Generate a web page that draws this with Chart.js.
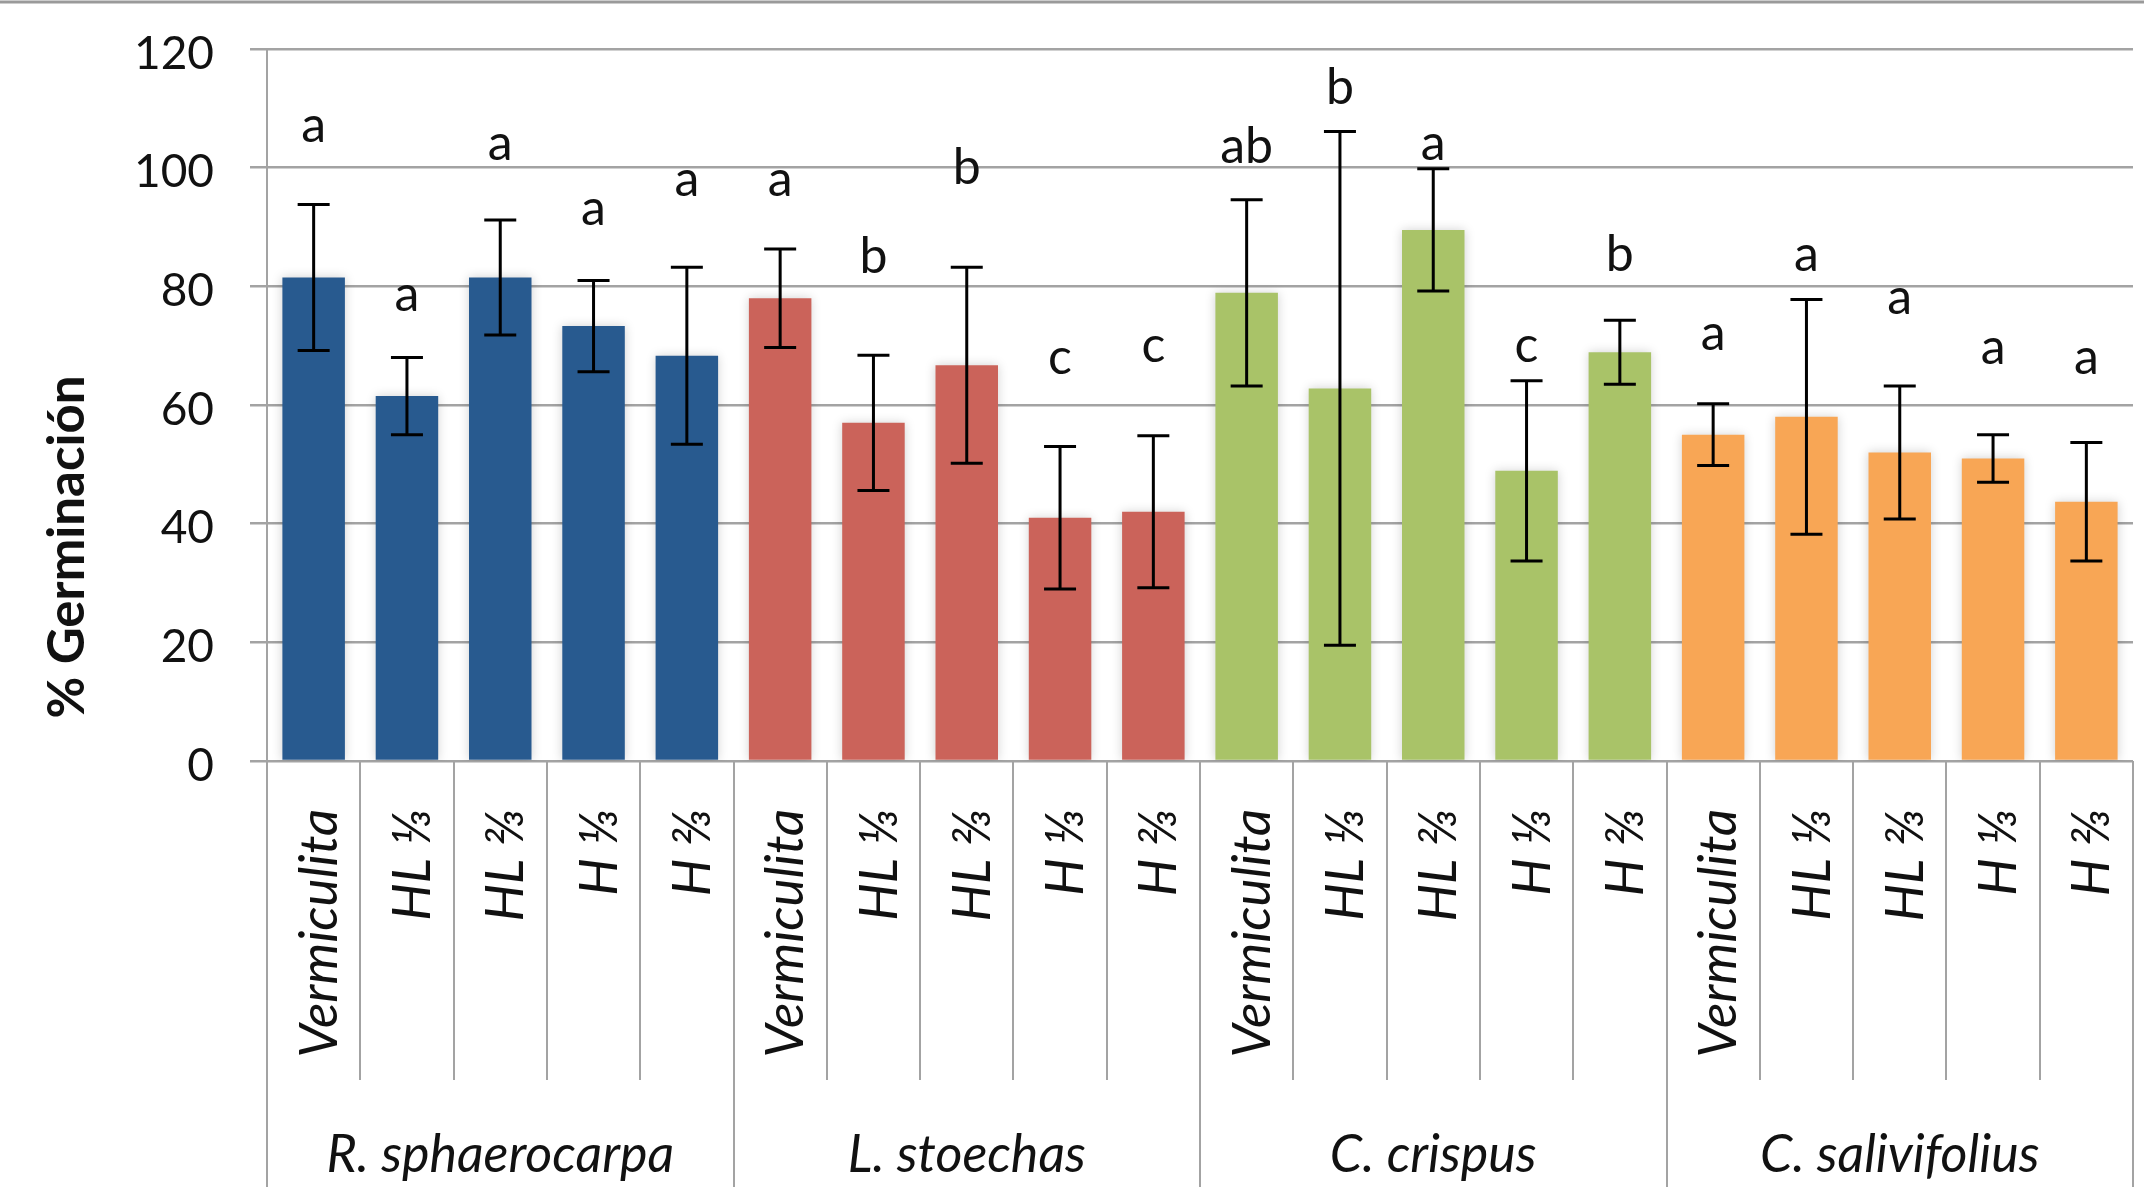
<!DOCTYPE html>
<html>
<head>
<meta charset="utf-8">
<script src="https://cdn.jsdelivr.net/npm/chart.js@4"></script>
<style>
  html,body{margin:0;padding:0;background:#fff;}
  canvas{display:block;}
</style>
</head>
<body>
<canvas id="chart" width="2144" height="1198"></canvas>
<script>
// germination (%) per species x substrate treatment
const species=['R. sphaerocarpa','L. stoechas','C. crispus','C. salivifolius'];
const treatments=['Vermiculita','HL \u2153','HL \u2154','H \u2153','H \u2154'];
const speciesColors=['#285A8F','#CB635A','#A9C368','#F8A655'];
const yTicks=[0,20,40,60,80,100,120];

const germ=[81.5,61.5,81.5,73.3,68.3, 78,57,66.7,41,42, 78.9,62.8,89.5,48.9,68.9, 55,58,52,51,43.7];
const sd  =[12.3,6.5,9.7,7.7,14.9, 8.3,11.4,16.5,12,12.8, 15.7,43.3,10.3,15.2,5.4, 5.2,19.8,11.2,4,10];
const letters=['a','a','a','a','a', 'a','b','b','c','c', 'ab','b','a','c','b', 'a','a','a','a','a'];
const letterY=[107,78.5,104,93,98, 98,85,100,68,70, 103.5,113.5,104,70,85.3, 72,85.3,78,69.6,68];

const labels=[];
species.forEach(()=>treatments.forEach(t=>labels.push(t)));
const barColors=germ.map((v,i)=>speciesColors[Math.floor(i/treatments.length)]);

const GRID='#A3A3A3';

const extras={
  id:'extras',
  beforeDatasetsDraw(chart){
    const c=chart.ctx;
    c.save();
    c.shadowColor='rgba(0,0,0,0.18)';
    c.shadowBlur=10;
  },
  afterDatasetsDraw(chart){
    const c=chart.ctx;
    c.restore();
    const meta=chart.getDatasetMeta(0), y=chart.scales.y;
    c.save();
    c.strokeStyle='#000';
    c.lineWidth=3;
    meta.data.forEach((bar,i)=>{
      const top=y.getPixelForValue(germ[i]+sd[i]);
      const bot=y.getPixelForValue(germ[i]-sd[i]);
      c.beginPath();
      c.moveTo(bar.x,top); c.lineTo(bar.x,bot);
      c.moveTo(bar.x-16,top); c.lineTo(bar.x+16,top);
      c.moveTo(bar.x-16,bot); c.lineTo(bar.x+16,bot);
      c.stroke();
    });
    c.font='50px Lato';
    c.textAlign='center';
    c.textBaseline='middle';
    c.fillStyle='#111';
    meta.data.forEach((bar,i)=>c.fillText(letters[i],bar.x,y.getPixelForValue(letterY[i])));
    c.restore();
  },
  afterDraw(chart){
    const c=chart.ctx, x=chart.scales.x, area=chart.chartArea;
    const n=labels.length, w=(x.right-x.left)/n;
    c.save();
    // frame line at top
    c.strokeStyle='#9a9a9a'; c.lineWidth=3;
    c.beginPath(); c.moveTo(0,2); c.lineTo(chart.width,2); c.stroke();
    // category separators below the axis
    c.strokeStyle=GRID; c.lineWidth=2;
    for(let k=0;k<=n;k++){
      const px=Math.round(x.left+k*w);
      c.beginPath();
      c.moveTo(px,area.bottom);
      c.lineTo(px,k%treatments.length===0?1187:1080);
      c.stroke();
    }
    // rotated treatment labels
    c.fillStyle='#111';
    c.font='italic 53px Lato';
    c.textAlign='right';
    c.textBaseline='middle';
    labels.forEach((t,i)=>{
      c.save();
      c.translate(x.getPixelForValue(i)+6,809);
      c.rotate(-Math.PI/2);
      c.fillText(t,0,0);
      c.restore();
    });
    // species labels
    c.font='italic 52px Lato';
    c.textAlign='center';
    c.textBaseline='alphabetic';
    species.forEach((s,g)=>{
      const cx=x.left+(g+0.5)*treatments.length*w;
      c.fillText(s,cx,1172);
    });
    // y axis title
    c.font='bold 51px Lato';
    c.save();
    c.translate(68,547);
    c.rotate(-Math.PI/2);
    c.textAlign='center';
    c.textBaseline='middle';
    c.fillText('% Germinaci\u00f3n',0,0);
    c.restore();
    c.restore();
  }
};

new Chart(document.getElementById('chart'),{
  type:'bar',
  data:{
    labels:labels,
    datasets:[{
      data:germ,
      backgroundColor:barColors,
      borderWidth:0,
      barPercentage:0.67,
      categoryPercentage:1
    }]
  },
  options:{
    responsive:false,
    animation:false,
    devicePixelRatio:1,
    layout:{padding:{top:49,right:11,bottom:0,left:0}},
    plugins:{legend:{display:false},tooltip:{enabled:false}},
    scales:{
      x:{
        grid:{display:false},
        border:{display:false},
        ticks:{display:false},
        afterFit(s){s.height=437;s.paddingLeft=0;s.paddingRight=0;}
      },
      y:{
        min:0,max:120,
        afterBuildTicks(s){s.ticks=yTicks.map(v=>({value:v}));},
        grid:{color:GRID,lineWidth:2.5,tickLength:17},
        border:{display:true,color:GRID,width:2},
        ticks:{font:{family:'Lato',size:46},color:'#111',padding:36,labelOffset:5},
        afterFit(s){s.width=267;s.paddingTop=0;s.paddingBottom=0;}
      }
    }
  },
  plugins:[extras]
});
</script>
</body>
</html>
